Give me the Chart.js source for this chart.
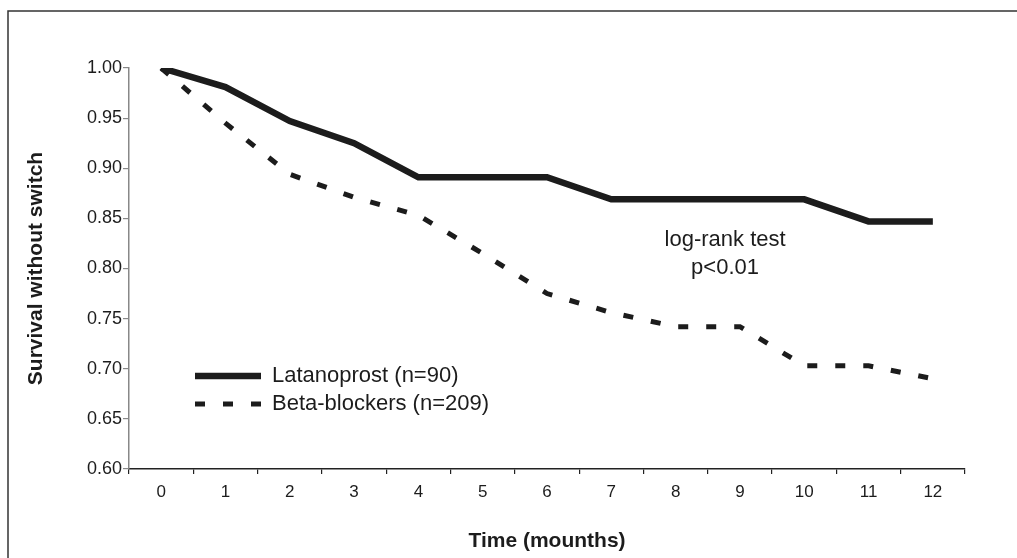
<!DOCTYPE html>
<html>
<head>
<meta charset="utf-8">
<script src="https://cdn.jsdelivr.net/npm/chart.js@4/dist/chart.umd.min.js"></script>
<style>
  html, body { margin: 0; padding: 0; background: #fff; }
  #wrap { width: 1017px; height: 558px; }
</style>
</head>
<body>
<div id="wrap"><canvas id="chart" width="1017" height="558"></canvas></div>
<script>
// ── Data ────────────────────────────────────────────────────
const months = ["0", "1", "2", "3", "4", "5", "6", "7", "8", "9", "10", "11", "12"];
const latanoprost = [1.0, 0.981, 0.947, 0.925, 0.891, 0.891, 0.891, 0.869, 0.869, 0.869, 0.869, 0.847, 0.847];
const betaBlockers = [1.0, 0.945, 0.894, 0.871, 0.853, 0.815, 0.775, 0.756, 0.742, 0.742, 0.703, 0.703, 0.69];
const seriesNames = ["Latanoprost (n=90)", "Beta-blockers (n=209)"];
const noteLines = ["log-rank test", "p<0.01"];

const FONT = "'Liberation Sans', Arial, Helvetica, sans-serif";
const INK = "#1c1c1c";

// ── Plugins: frame, in-plot legend, log-rank note ───────────
const decorations = {
  id: "decorations",
  afterDraw(chart) {
    const ctx = chart.ctx;
    const area = chart.chartArea;
    ctx.save();

    // outer frame (right/bottom edges fall outside the picture)
    ctx.strokeStyle = "#333";
    ctx.lineWidth = 1.5;
    ctx.beginPath();
    ctx.moveTo(8, 600);
    ctx.lineTo(8, 11);
    ctx.lineTo(1100, 11);
    ctx.stroke();

    // legend inside the plot
    ctx.font = `22px ${FONT}`;
    ctx.textBaseline = "middle";
    ctx.fillStyle = INK;
    const rows = [376, 404];
    chart.data.datasets.forEach((ds, i) => {
      const y = rows[i];
      ctx.strokeStyle = ds.borderColor;
      ctx.lineWidth = ds.borderWidth;
      ctx.lineCap = "butt";
      ctx.setLineDash(ds.borderDash || []);
      ctx.beginPath();
      ctx.moveTo(195, y);
      ctx.lineTo(261, y);
      ctx.stroke();
      ctx.setLineDash([]);
      ctx.fillText(seriesNames[i], 272, y);
    });

    // log-rank note
    ctx.textAlign = "center";
    const cx = area.left + (area.right - area.left) * 0.713;
    ctx.fillText(noteLines[0], cx, 240);
    ctx.fillText(noteLines[1], cx, 268);
    ctx.restore();
  },
};

// ── Chart ───────────────────────────────────────────────────
new Chart(document.getElementById("chart"), {
  type: "line",
  data: {
    labels: months,
    datasets: [
      {
        label: seriesNames[0],
        data: latanoprost,
        borderColor: INK,
        borderWidth: 6.5,
        borderCapStyle: "butt",
        borderJoinStyle: "miter",
        pointRadius: 0,
        tension: 0,
        fill: false,
      },
      {
        label: seriesNames[1],
        data: betaBlockers,
        borderColor: INK,
        borderWidth: 5,
        borderDash: [10, 18],
        borderCapStyle: "butt",
        pointRadius: 0,
        tension: 0,
        fill: false,
      },
    ],
  },
  options: {
    responsive: false,
    animation: false,
    layout: { padding: { top: 68, right: 52, bottom: 0, left: 0 } },
    plugins: {
      legend: { display: false },
      tooltip: { enabled: false },
    },
    scales: {
      x: {
        offset: true,
        grid: {
          offset: true,
          drawOnChartArea: false,
          drawTicks: true,
          tickLength: 5,
          color: "#222",
          lineWidth: 1.2,
        },
        border: { color: "#222", width: 1.5 },
        ticks: {
          padding: 8,
          color: INK,
          font: { family: FONT, size: 17 },
          maxRotation: 0,
        },
        title: {
          display: true,
          text: "Time (mounths)",
          color: INK,
          font: { family: FONT, size: 21, weight: "bold" },
          padding: { top: 0, bottom: 4 },
        },
        afterFit(scale) {
          scale.height = 89;
        },
      },
      y: {
        min: 0.6,
        max: 1.0,
        grid: {
          drawOnChartArea: false,
          drawTicks: true,
          tickLength: 6,
          color: "#888",
          lineWidth: 1.2,
        },
        border: { color: "#888", width: 1.5 },
        ticks: {
          stepSize: 0.05,
          padding: 1,
          color: INK,
          font: { family: FONT, size: 18 },
          callback: (v) => v.toFixed(2),
        },
        title: {
          display: true,
          text: "Survival without switch",
          color: INK,
          font: { family: FONT, size: 21, weight: "bold" },
          padding: { top: 24, bottom: 0 },
        },
        afterFit(scale) {
          scale.width = 129;
        },
      },
    },
  },
  plugins: [decorations],
});
</script>
</body>
</html>
